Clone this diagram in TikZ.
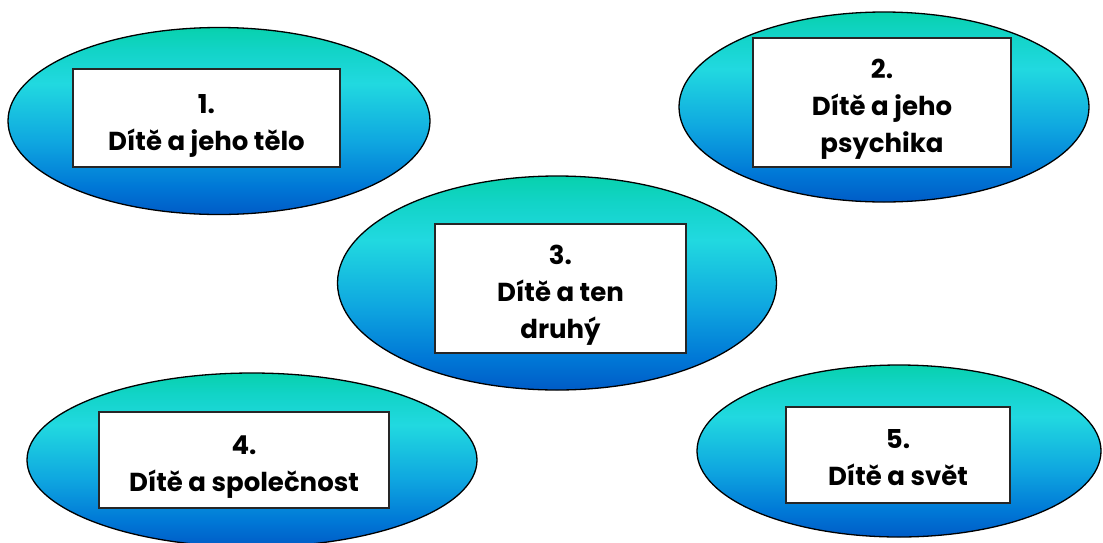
\documentclass[tikz,border=0pt]{standalone}
\usepackage{fontspec}
\setmainfont{Poppins}
\usetikzlibrary{shapes.geometric}
\pgfdeclareverticalshading{bubble}{100bp}{
  rgb(0bp)=(0,0.36,0.78);
  rgb(25bp)=(0,0.36,0.78);
  rgb(32.5bp)=(0,0.47,0.84);
  rgb(45bp)=(0.06,0.66,0.88);
  rgb(60bp)=(0.13,0.85,0.88);
  rgb(69bp)=(0.07,0.83,0.78);
  rgb(75bp)=(0.03,0.82,0.68);
  rgb(100bp)=(0.03,0.82,0.68)}
\tikzset{
  bubble/.style={ellipse, draw=black, line width=1.3pt, shading=bubble, inner sep=0pt},
  label box/.style={rectangle, draw=black!85, line width=1.8pt, fill=white, inner sep=0pt},
  box text/.style={inner sep=0pt, align=center, font=\fontsize{26}{37}\selectfont\bfseries}
}
\begin{document}
\begin{tikzpicture}[x=1pt,y=-1pt]
\useasboundingbox (0,0) rectangle (1103,542);
\node[bubble, minimum width=422pt, minimum height=187pt] (e1) at (219,121) {};
\node[bubble, minimum width=410pt, minimum height=190pt] (e2) at (884,107) {};
\node[bubble, minimum width=439pt, minimum height=214pt] (e3) at (557,283) {};
\node[bubble, minimum width=450pt, minimum height=174pt] (e4) at (252,460) {};
\node[bubble, minimum width=404pt, minimum height=172pt] (e5) at (899,451) {};
\node[label box, minimum width=267pt, minimum height=98pt] (b1) at (206.5,118) {};
\node[label box, minimum width=258pt, minimum height=129pt] (b2) at (882,102.5) {};
\node[label box, minimum width=251pt, minimum height=129pt] (b3) at (560.5,288.5) {};
\node[label box, minimum width=290pt, minimum height=96pt] (b4) at (244,460) {};
\node[label box, minimum width=224pt, minimum height=96pt] (b5) at (898,455) {};
\node[box text, yshift=-8pt] (t1) at (b1) {1.\\Dítě a jeho tělo};
\node[box text, yshift=-7pt] (t2) at (b2) {2.\\Dítě a jeho\\psychika};
\node[box text, yshift=-7pt] (t3) at (b3) {3.\\Dítě a ten\\druhý};
\node[box text, yshift=-7pt] (t4) at (b4) {4.\\Dítě a společnost};
\node[box text, yshift=-3pt] (t5) at (b5) {5.\\Dítě a svět};
\end{tikzpicture}
\end{document}
